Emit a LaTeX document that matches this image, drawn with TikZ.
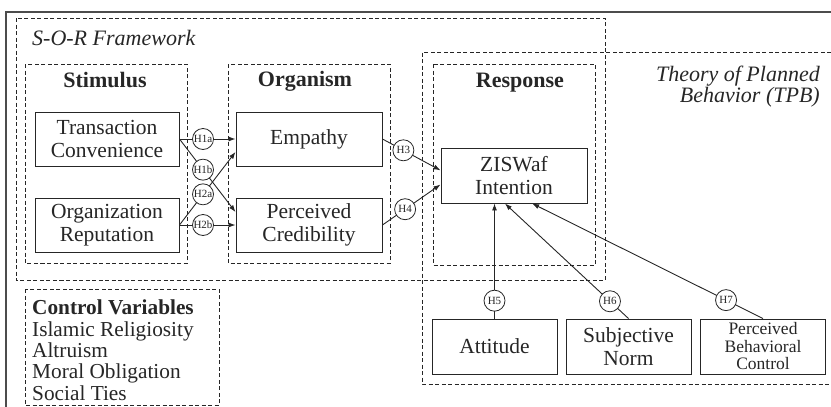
\documentclass[tikz,border=0pt]{standalone}
\usepackage{fontspec}
\setmainfont{Liberation Serif}
\usetikzlibrary{arrows.meta}

\tikzset{
  >={Latex[length=7pt,width=5pt]},
  varbox/.style={draw, line width=0.95pt, minimum width=144pt, minimum height=54pt,
    align=center, inner sep=2pt, font=\fontsize{21.5}{22.5}\selectfont},
  groupline/.style={draw, line width=0.9pt, dash pattern=on 4pt off 2.5pt},
  grouptitle/.style={anchor=base, inner sep=0pt, font=\bfseries\fontsize{22}{22}\selectfont},
  hypcircle/.style={draw, circle, fill=white, line width=0.8pt, minimum size=21pt,
    inner sep=0pt, font=\fontsize{11}{11}\selectfont},
  hyparrow/.style={->, line width=0.9pt}
}

\begin{document}
\begin{tikzpicture}[x=1pt, y=-1pt, color=black!85]
    % Keep the frame of the figure at 831 x 407
    \useasboundingbox (0,0) rectangle (831,407);

    % Draw the outer frame (only top and left edges show)
    \draw[line width=1.4pt, black!70] (6,407) -- (6,12) -- (831,12);

    % Draw the dashed group boxes
    \draw[groupline] (16,18) rectangle (605,280);  % S-O-R framework
    \draw[groupline] (831,52) -- (422,52) -- (422,384) -- (831,384);  % TPB, runs off the right edge
    \draw[groupline] (25,64) rectangle (187,263);  % stimulus
    \draw[groupline] (228,64) rectangle (390,263);  % organism
    \draw[groupline] (433,64) rectangle (595,265);  % response
    \draw[groupline] (25,289) rectangle (219,405);  % control variables

    % Group titles
    \node[anchor=base west, inner sep=0pt, font=\itshape\fontsize{22}{22}\selectfont] (sor) at (32,45) {S-O-R Framework};
    \node[anchor=north east, align=right, inner sep=0pt, font=\itshape\fontsize{22}{20.7}\selectfont] (tpb) at (820,66) {Theory of Planned\\Behavior (TPB)};
    \node[grouptitle] (stim) at (105,87) {Stimulus};
    \node[grouptitle] (orgm) at (305,86) {Organism};
    \node[grouptitle] (resp) at (520,87) {Response};

    % Control variables list
    \node[anchor=north west, align=left, inner sep=0pt, font=\fontsize{21.3}{21.3}\selectfont] (ctrl) at (32,300)
        {\textbf{Control Variables}\\Islamic Religiosity\\Altruism\\Moral Obligation\\Social Ties};

    % Draw the construct boxes
    \node[varbox] (tc) at (107,139) {Transaction\\Convenience};
    \node[varbox] (org) at (107,225) {Organization\\Reputation};
    \node[varbox, minimum width=146pt] (emp) at (309,139) {Empathy};
    \node[varbox, minimum width=146pt] (pc) at (309,225) {Perceived\\Credibility};
    \node[varbox, minimum width=146pt, minimum height=55pt] (zis) at (514,175.5) {ZISWaf\\Intention};
    \node[varbox, minimum width=125pt, minimum height=55pt] (att) at (494.5,346.5) {Attitude};
    \node[varbox, minimum width=125pt, minimum height=55pt] (sn) at (628.5,346.5) {Subjective\\Norm};
    \node[varbox, minimum width=125pt, minimum height=55pt, font=\fontsize{17.5}{17.5}\selectfont] (pbc) at (763,346.5) {Perceived\\Behavioral\\Control};

    % Draw the hypothesis paths with their circles
    \foreach \from/\to/\lab/\p in {tc.east/emp.west/1a/0.42, tc.east/pc.170/1b/0.42,
                                  org.east/emp.190/2a/0.42, org.east/pc.west/2b/0.42,
                                  emp.east/zis.176/3/0.36, pc.east/zis.187/4/0.39,
                                  sn.north/zis.252/6/0.15, pbc.north/zis.303/7/0.16} {
        \draw[hyparrow] (\from) -- node[hypcircle, pos=\p] (h\lab) {H\lab} (\to);
    }
    \draw[hyparrow] (att.north) -- node[hypcircle, pos=0.155] (h5) {H5} (att.north |- zis.south);

\end{tikzpicture}
\end{document}
